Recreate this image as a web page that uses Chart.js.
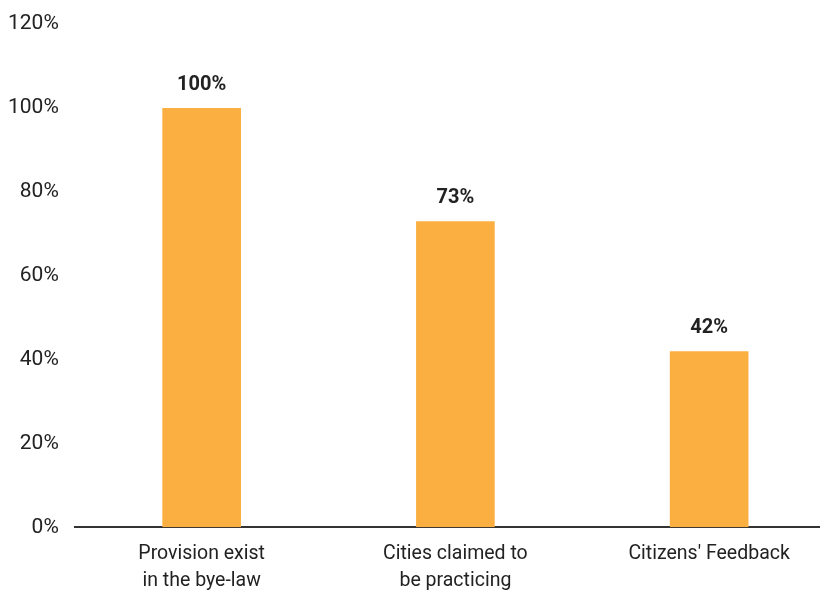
<!DOCTYPE html>
<html lang="en">
  <head>
    <meta charset="UTF-8" />
    <title>Bye-law provision</title>
    <script src="https://cdn.jsdelivr.net/npm/chart.js@4.4.1/dist/chart.umd.min.js"></script>
    <style>
      html, body { margin: 0; padding: 0; overflow: hidden; background: #fff; }
      .wrap { width: 836px; height: 600px; }
    </style>
  </head>
  <body>
    <div class="wrap"><canvas id="chart1"></canvas></div>
    <script>
      const categories = [
        ["Provision exist", "in the bye-law"],
        ["Cities claimed to", "be practicing"],
        ["Citizens' Feedback"],
      ];
      const values = [100, 73, 42];
      const yTicks = [0, 20, 40, 60, 80, 100, 120];

      const font = "Roboto, 'Liberation Sans', sans-serif";

      // value labels above each bar
      const barLabels = {
        id: "barLabels",
        afterDatasetsDraw(chart) {
          const ctx = chart.ctx;
          const meta = chart.getDatasetMeta(0);
          ctx.save();
          ctx.font = "bold 20px " + font;
          ctx.fillStyle = "#222";
          ctx.textAlign = "center";
          ctx.textBaseline = "bottom";
          meta.data.forEach((bar, i) => {
            ctx.fillText(values[i] + "%", bar.x, bar.y - 13);
          });
          ctx.restore();
        },
      };

      new Chart(document.getElementById("chart1"), {
        type: "bar",
        data: {
          labels: categories,
          datasets: [
            {
              data: values,
              backgroundColor: "#FBAF41",
              barPercentage: 0.31,
              categoryPercentage: 1,
            },
          ],
        },
        options: {
          responsive: true,
          maintainAspectRatio: false,
          animation: false,
          layout: { padding: { top: 24, left: 0, right: 0, bottom: 0 } },
          plugins: { legend: { display: false }, tooltip: { enabled: false } },
          scales: {
            x: {
              grid: { display: false },
              border: { display: true, color: "#333", width: 2 },
              ticks: {
                color: "#222",
                font: { family: font, size: 19.5, lineHeight: 1.35 },
                padding: 6,
                maxRotation: 0,
              },
            },
            y: {
              min: 0,
              max: 120,
              afterBuildTicks: (axis) => {
                axis.ticks = yTicks.map((v) => ({ value: v }));
              },
              grid: { display: false },
              border: { display: false },
              ticks: {
                color: "#222",
                font: { family: font, size: 21 },
                padding: 8,
                callback: (v) => v + "%",
              },
            },
          },
        },
        plugins: [barLabels],
      });
    </script>
  </body>
</html>
